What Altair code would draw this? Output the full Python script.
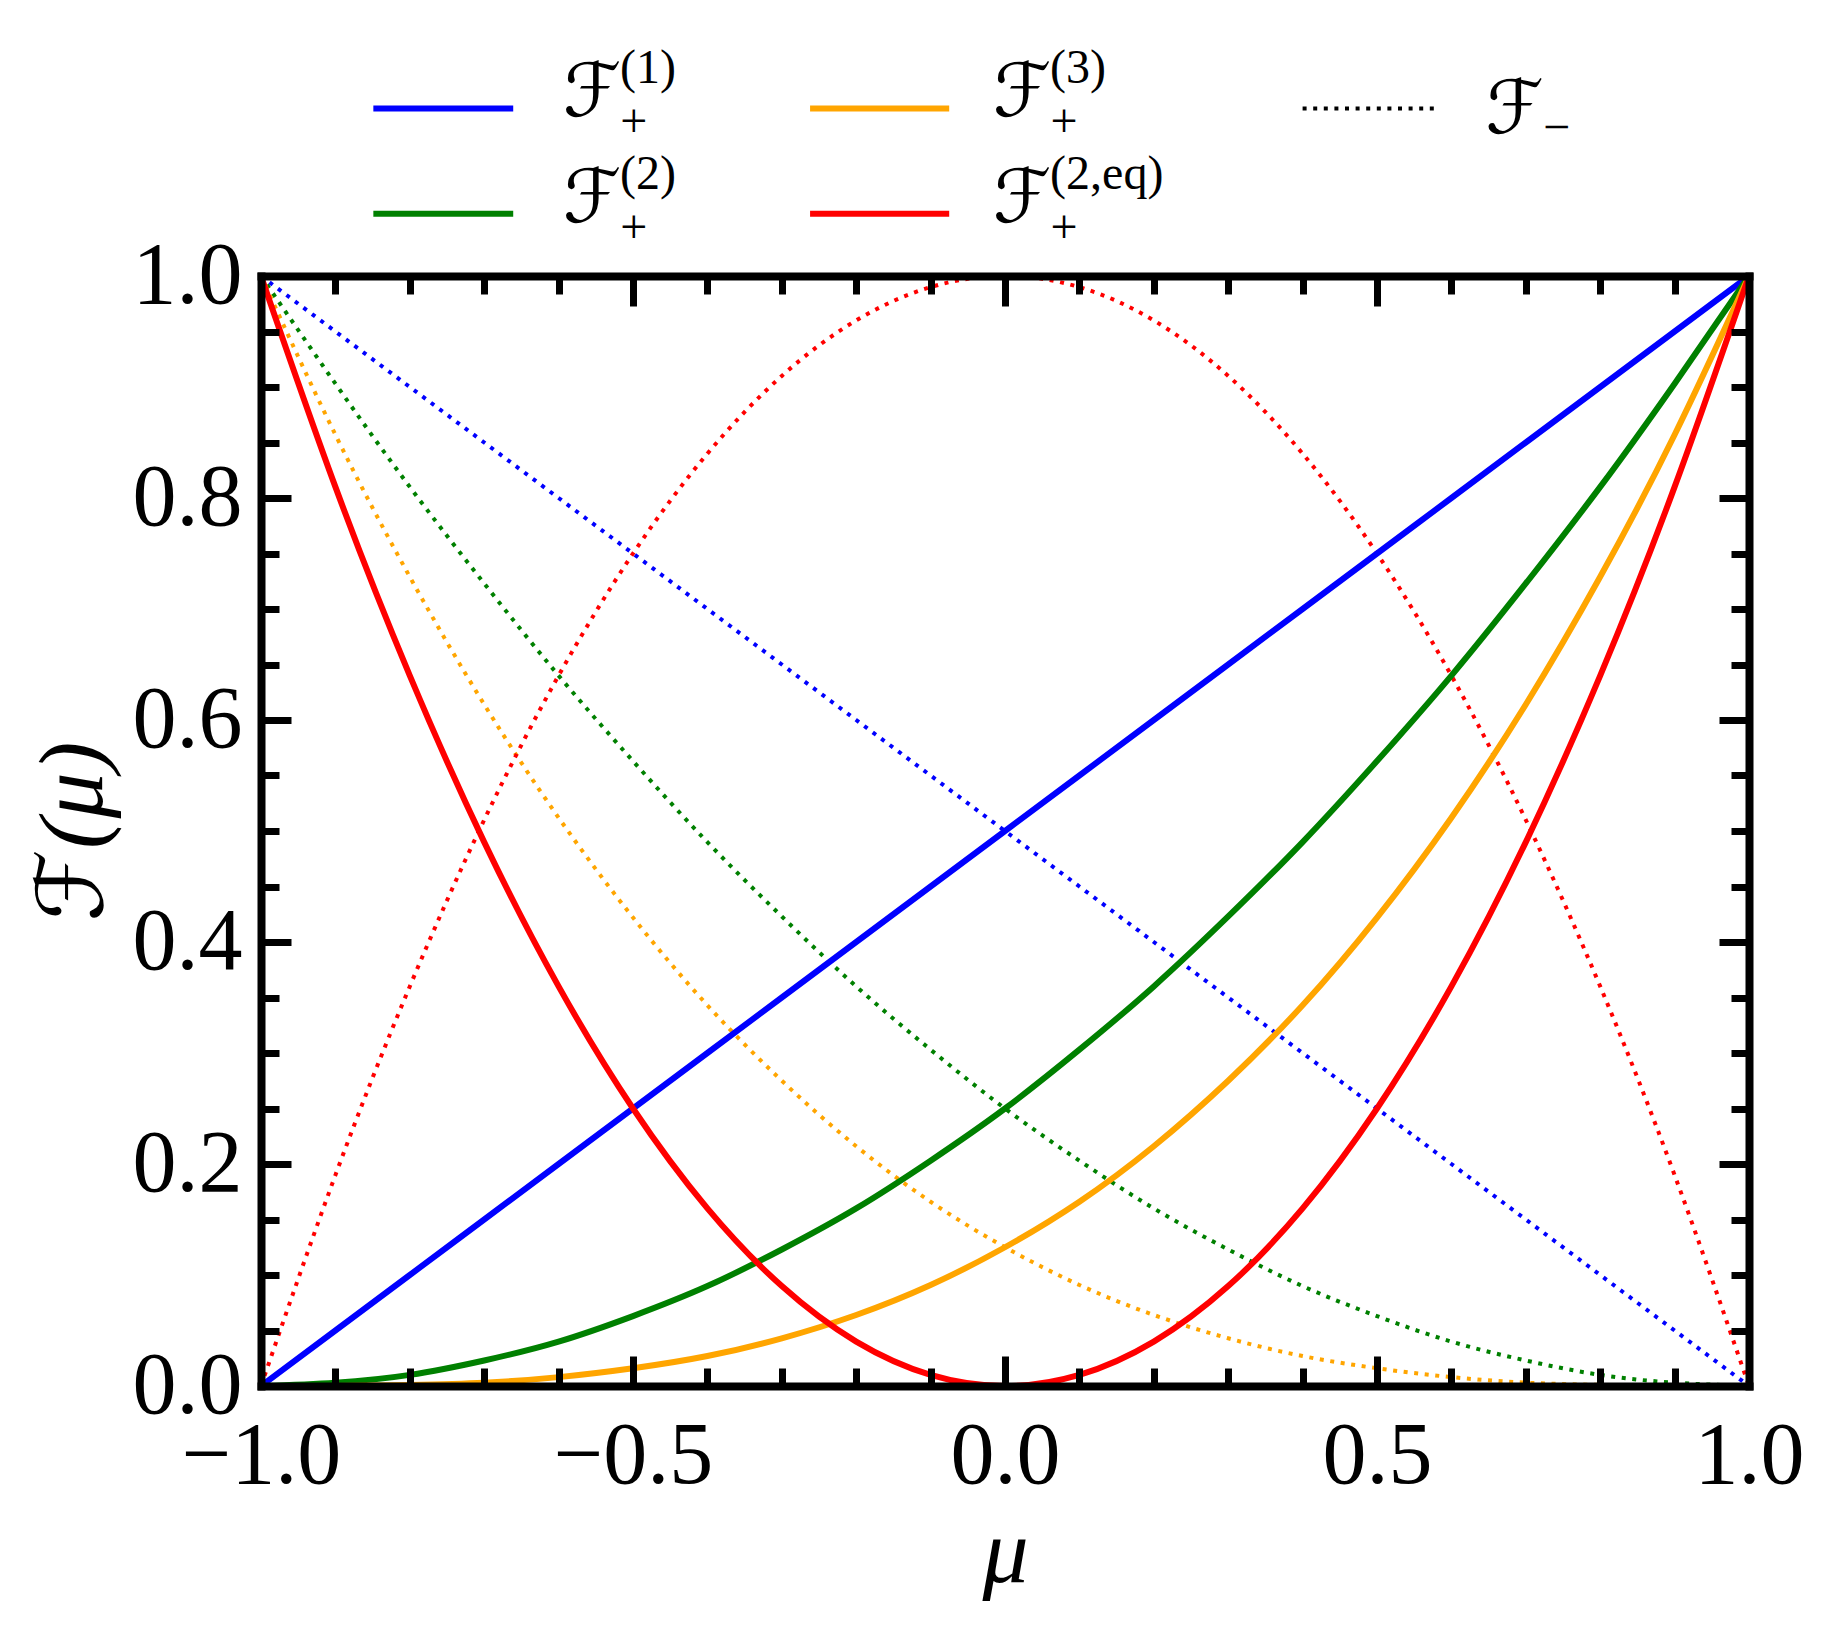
import altair as alt
import pandas as pd

# ---------------- data ----------------
mu = [-1.0, -0.9, -0.8, -0.7, -0.6, -0.5, -0.4, -0.3, -0.2, -0.1, 0.0,
      0.1, 0.2, 0.3, 0.4, 0.5, 0.6, 0.7, 0.8, 0.9, 1.0]

# F_+ curves (solid)
f1_plus = [0.00, 0.05, 0.10, 0.15, 0.20, 0.25, 0.30, 0.35, 0.40, 0.45, 0.50,
           0.55, 0.60, 0.65, 0.70, 0.75, 0.80, 0.85, 0.90, 0.95, 1.00]
f2_plus = [0.000, 0.003, 0.010, 0.023, 0.040, 0.063, 0.090, 0.123, 0.160, 0.203, 0.250,
           0.303, 0.360, 0.423, 0.490, 0.563, 0.640, 0.723, 0.810, 0.903, 1.000]
f3_plus = [0.000, 0.000, 0.001, 0.003, 0.008, 0.016, 0.027, 0.043, 0.064, 0.091, 0.125,
           0.166, 0.216, 0.275, 0.343, 0.422, 0.512, 0.614, 0.729, 0.857, 1.000]
f2eq_plus = [1.00, 0.81, 0.64, 0.49, 0.36, 0.25, 0.16, 0.09, 0.04, 0.01, 0.00,
             0.01, 0.04, 0.09, 0.16, 0.25, 0.36, 0.49, 0.64, 0.81, 1.00]

# F_- curves (dotted)
f1_minus = [1.00, 0.95, 0.90, 0.85, 0.80, 0.75, 0.70, 0.65, 0.60, 0.55, 0.50,
            0.45, 0.40, 0.35, 0.30, 0.25, 0.20, 0.15, 0.10, 0.05, 0.00]
f2_minus = [1.000, 0.903, 0.810, 0.723, 0.640, 0.563, 0.490, 0.423, 0.360, 0.303, 0.250,
            0.203, 0.160, 0.123, 0.090, 0.063, 0.040, 0.023, 0.010, 0.003, 0.000]
f3_minus = [1.000, 0.857, 0.729, 0.614, 0.512, 0.422, 0.343, 0.275, 0.216, 0.166, 0.125,
            0.091, 0.064, 0.043, 0.027, 0.016, 0.008, 0.003, 0.001, 0.000, 0.000]
f2eq_minus = [0.00, 0.19, 0.36, 0.51, 0.64, 0.75, 0.84, 0.91, 0.96, 0.99, 1.00,
              0.99, 0.96, 0.91, 0.84, 0.75, 0.64, 0.51, 0.36, 0.19, 0.00]

series_names = ["1", "2", "3", "2,eq"]
series_colors = ["#0000ff", "#008000", "#ffa500", "#ff0000"]

# tick values
x_major = [-1.0, -0.5, 0.0, 0.5, 1.0]
x_minor = [-1.0, -0.9, -0.8, -0.7, -0.6, -0.5, -0.4, -0.3, -0.2, -0.1, 0.0,
           0.1, 0.2, 0.3, 0.4, 0.5, 0.6, 0.7, 0.8, 0.9, 1.0]
y_major = [0.0, 0.2, 0.4, 0.6, 0.8, 1.0]
y_minor = [0.0, 0.05, 0.1, 0.15, 0.2, 0.25, 0.3, 0.35, 0.4, 0.45, 0.5,
           0.55, 0.6, 0.65, 0.7, 0.75, 0.8, 0.85, 0.9, 0.95, 1.0]

# legend (placed above the axes, in data units of the shared scales)
leg_main = ["ℱ", "ℱ", "ℱ", "ℱ", "ℱ"]
leg_sup = ["(1)", "(2)", "(3)", "(2,eq)", ""]
leg_sub = ["+", "+", "+", "+", "−"]
leg_color = ["#0000ff", "#008000", "#ffa500", "#ff0000", "#000000"]
leg_style = ["solid", "solid", "solid", "solid", "dotted"]
leg_x0 = [-0.849, -0.849, -0.262, -0.262, 0.400]
leg_x1 = [-0.661, -0.661, -0.075, -0.075, 0.578]
leg_line_y = [1.151, 1.056, 1.151, 1.056, 1.151]
leg_text_x = [-0.594, -0.594, -0.016, -0.016, 0.646]
leg_text_y = [1.144, 1.049, 1.144, 1.049, 1.129]
leg_sub_x = [-0.517, -0.517, 0.061, 0.061, 0.723]
leg_sub_y = [1.125, 1.030, 1.125, 1.030, 1.120]

FONT = "Liberation Serif, DejaVu Serif, DejaVu Sans, serif"
W, H = 1488, 1110


def long_df(lists):
    rows = []
    for name, vals in zip(series_names, lists):
        for m, v in zip(mu, vals):
            rows.append({"mu": m, "F": v, "series": name})
    return pd.DataFrame(rows)


solid_df = long_df([f1_plus, f2_plus, f3_plus, f2eq_plus])
dotted_df = long_df([f1_minus, f2_minus, f3_minus, f2eq_minus])
leg_df = pd.DataFrame({
    "main": leg_main, "sup": leg_sup, "sub": leg_sub, "color": leg_color,
    "style": leg_style, "x0": leg_x0, "x1": leg_x1, "ly": leg_line_y,
    "tx": leg_text_x, "ty": leg_text_y, "sx": leg_sub_x, "sy": leg_sub_y,
})


def xs():
    return alt.Scale(domain=[-1, 1], nice=False, zero=False)


def ys():
    return alt.Scale(domain=[0, 1], nice=False, zero=False)


def tick_axis(orient, values, size, labels=False, **kw):
    return alt.Axis(orient=orient, values=values, tickSize=size, offset=-size,
                    ticks=True, tickColor="black", tickWidth=7, domain=False,
                    grid=False, labels=labels, zindex=2, **kw)


def frame_axis(orient):
    return alt.Axis(orient=orient, ticks=False, labels=False, grid=False,
                    domain=True, domainColor="black", domainWidth=8,
                    domainCap="square", offset=0, title=None, zindex=3)


color_enc = alt.Color("series:N", scale=alt.Scale(domain=series_names, range=series_colors),
                      legend=None)

solid = alt.Chart(solid_df).mark_line(strokeWidth=6, clip=True, interpolate="natural").encode(
    x=alt.X("mu:Q", scale=xs(), axis=tick_axis(
        "bottom", x_major, 30, labels=True, format=".1f", labelFont=FONT, labelFontSize=88,
        labelColor="black", labelPadding=26, labelFlush=False, labelOverlap=False,
        title="μ", titleFont=FONT, titleFontSize=92, titleFontStyle="italic",
        titleFontWeight="normal", titleColor="black", titlePadding=8)),
    y=alt.Y("F:Q", scale=ys(), axis=tick_axis(
        "left", y_major, 30, labels=True, format=".1f", labelFont=FONT, labelFontSize=88,
        labelColor="black", labelPadding=19, labelFlush=False, labelOverlap=False,
        title="ℱ(μ)", titleFont=FONT, titleFontSize=92, titleFontStyle="italic",
        titleFontWeight="normal", titleColor="black", titlePadding=12)),
    color=color_enc,
)

dotted = alt.Chart(dotted_df).mark_line(strokeWidth=4, strokeDash=[4, 6.6], clip=True,
                                        interpolate="natural").encode(
    x=alt.X("mu:Q", scale=xs(), axis=tick_axis("bottom", x_minor, 18, title=None)),
    y=alt.Y("F:Q", scale=ys(), axis=tick_axis("left", y_minor, 18, title=None)),
    color=color_enc,
)

leg_solid = alt.Chart(leg_df).transform_filter(alt.datum.style == "solid").mark_rule(
    strokeWidth=6).encode(
    x=alt.X("x0:Q", scale=xs(), axis=tick_axis("top", x_major, 30, title=None)),
    x2="x1:Q",
    y=alt.Y("ly:Q", scale=ys(), axis=tick_axis("right", y_major, 30, title=None)),
    color=alt.Color("color:N", scale=None),
)

leg_dotted = alt.Chart(leg_df).transform_filter(alt.datum.style == "dotted").mark_rule(
    strokeWidth=4, strokeDash=[4, 6.6]).encode(
    x=alt.X("x0:Q", scale=xs(), axis=tick_axis("top", x_minor, 18, title=None)),
    x2="x1:Q",
    y=alt.Y("ly:Q", scale=ys(), axis=tick_axis("right", y_minor, 18, title=None)),
    color=alt.Color("color:N", scale=None),
)

leg_main_t = alt.Chart(leg_df).mark_text(align="left", baseline="alphabetic", fontSize=74,
                                         font=FONT, color="black").encode(
    x=alt.X("tx:Q", scale=xs(), axis=frame_axis("bottom")),
    y=alt.Y("ty:Q", scale=ys(), axis=frame_axis("left")),
    text="main:N",
)

leg_sup_t = alt.Chart(leg_df).mark_text(align="left", baseline="alphabetic", fontSize=48,
                                        font=FONT, color="black", dx=57, dy=-33).encode(
    x=alt.X("tx:Q", scale=xs(), axis=frame_axis("top")),
    y=alt.Y("ty:Q", scale=ys(), axis=frame_axis("right")),
    text="sup:N",
)

leg_sub_t = alt.Chart(leg_df).mark_text(align="left", baseline="alphabetic", fontSize=48,
                                        font=FONT, color="black").encode(
    x=alt.X("sx:Q", scale=xs(), axis=None),
    y=alt.Y("sy:Q", scale=ys(), axis=None),
    text="sub:N",
)

chart = alt.layer(
    dotted, solid, leg_solid, leg_dotted, leg_main_t, leg_sup_t, leg_sub_t
).resolve_axis(
    x="independent", y="independent"
).properties(
    width=W, height=H,
    autosize=alt.AutoSizeParams(type="none"),
    padding={"left": 253, "top": 268, "right": 60, "bottom": 220},
).configure(
    background="white"
).configure_view(
    stroke="transparent"
)

chart.save("out.html", embed_options={"renderer": "svg", "actions": False})
